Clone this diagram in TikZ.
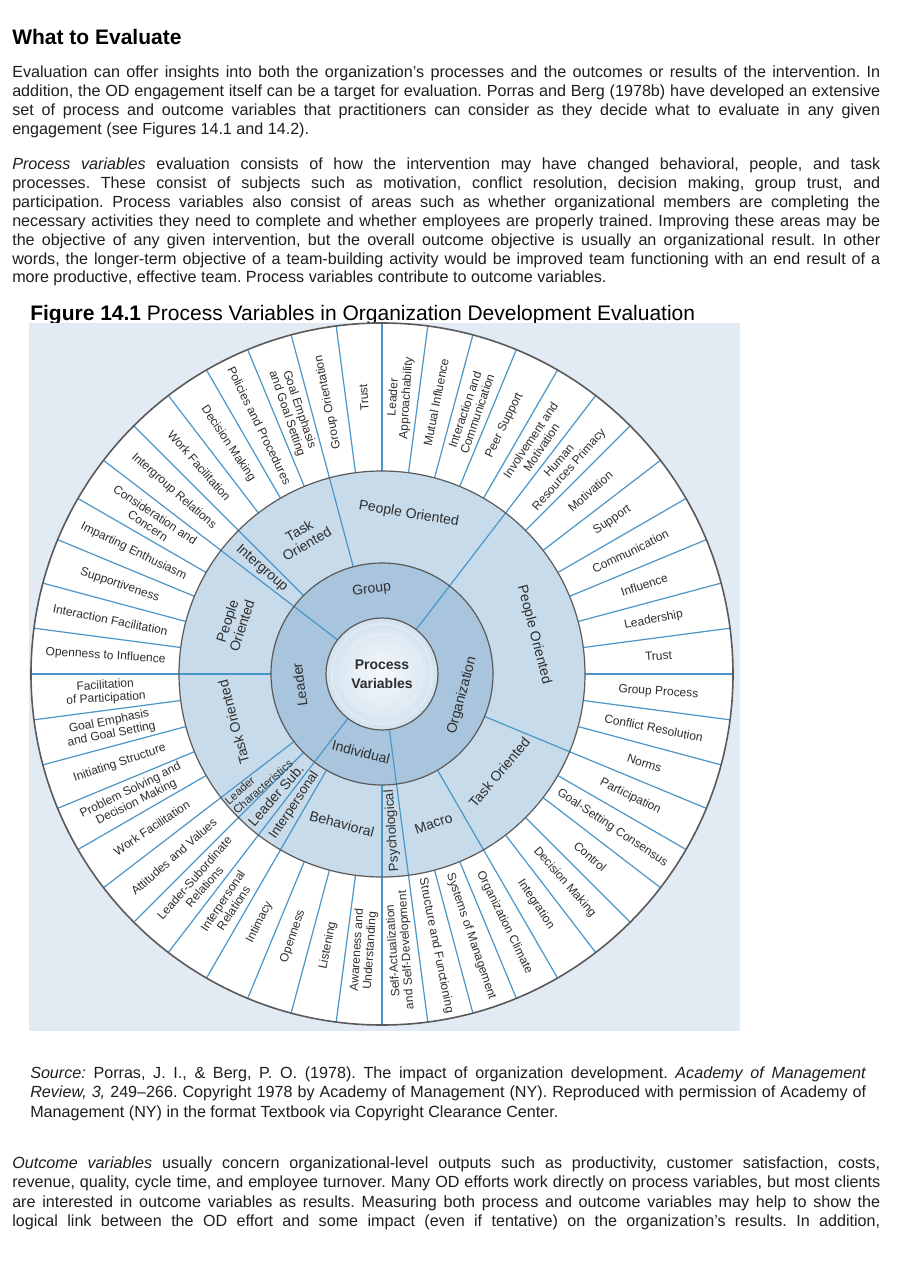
\documentclass[tikz,border=0pt]{standalone}
\usepackage{fontspec}
\setmainfont{Liberation Sans}
\frenchspacing
\definecolor{panel}{HTML}{E2EBF4}
\definecolor{ringA}{HTML}{C8DBEA}
\definecolor{ringB}{HTML}{A8C5DD}
\definecolor{divider}{HTML}{4A96C8}
\definecolor{outline}{HTML}{5A5A5A}
\definecolor{labeltext}{HTML}{2E2E2E}
\definecolor{bodytext}{HTML}{1E1E1E}
\newcommand\jfull[1]{\hbox to 651pt{#1}}
\newcommand\jsrc[1]{\hbox to 627pt{#1}}
\begin{document}
\begin{tikzpicture}[x=0.75pt,y=0.75pt,
  bodyline/.style={anchor=base west, inner sep=0pt, font=\fontsize{12.1}{14}\selectfont\frenchspacing, text=bodytext},
  outerlbl/.style={inner sep=0pt, align=center, font=\fontsize{9}{9.8}\selectfont, text=labeltext},
  ringlbl/.style={inner sep=0pt, align=center, font=\fontsize{10.5}{11.5}\selectfont, text=labeltext},
  divline/.style={draw=divider, line width=0.9pt},
  circline/.style={draw=outline, line width=0.9pt}]
\useasboundingbox (0,0) rectangle (914,-1266);
\fill[white] (0,0) rectangle (914,-1266);

% heading and paragraphs
\node[anchor=base west, inner sep=0pt, font=\bfseries\fontsize{15.75}{18}\selectfont, text=black] (head) at (12,-44.5) {What to Evaluate};

\node[bodyline] (p1a) at (12,-78) {\jfull{Evaluation can offer insights into both the organization’s processes and the outcomes or results of the intervention. In}};
\node[bodyline] (p1b) at (12,-97) {\jfull{addition, the OD engagement itself can be a target for evaluation. Porras and Berg (1978b) have developed an extensive}};
\node[bodyline] (p1c) at (12,-116) {\jfull{set of process and outcome variables that practitioners can consider as they decide what to evaluate in any given}};
\node[bodyline] (p1d) at (12,-135) {engagement (see Figures 14.1 and 14.2).};

\node[bodyline] (p2a) at (12,-170) {\jfull{\textit{Process variables} evaluation consists of how the intervention may have changed behavioral, people, and task}};
\node[bodyline] (p2b) at (12,-188.8) {\jfull{processes. These consist of subjects such as motivation, conflict resolution, decision making, group trust, and}};
\node[bodyline] (p2c) at (12,-207.6) {\jfull{participation. Process variables also consist of areas such as whether organizational members are completing the}};
\node[bodyline] (p2d) at (12,-226.4) {\jfull{necessary activities they need to complete and whether employees are properly trained. Improving these areas may be}};
\node[bodyline] (p2e) at (12,-245.2) {\jfull{the objective of any given intervention, but the overall outcome objective is usually an organizational result. In other}};
\node[bodyline] (p2f) at (12,-264) {\jfull{words, the longer-term objective of a team-building activity would be improved team functioning with an end result of a}};
\node[bodyline] (p2g) at (12,-282.8) {more productive, effective team. Process variables contribute to outcome variables.};

\node[anchor=base west, inner sep=0pt, font=\fontsize{15.75}{18}\selectfont, text=black] (title) at (30,-320) {\textbf{Figure 14.1} Process Variables in Organization Development Evaluation};

% figure panel
\fill[panel] (29,-323) rectangle (740,-1031);

\begin{scope}[shift={(382,-674)}]
  \fill[white] (0,0) circle (351);
  \fill[ringA] (0,0) circle (203);
  \fill[ringB] (0,0) circle (111);
  \shade[inner color=white!85!ringA, outer color=ringA!80!white] (0,0) circle (56);
  \foreach \rr in {16,28,40,50} \draw[white!60!ringA, line width=1.2pt, opacity=0.6] (0,0) circle (\rr);
  % dividers
  \foreach \a in {0,7.5,...,355} \draw[divline] (\a:203) -- (\a:351);
  \foreach \a in {105,135,180,217.5,225,240,270,300,337.5} \draw[divline] (\a:111) -- (\a:204);
  \foreach \a in {52.5,142.5,232.5,277.5} \draw[divline] (\a:56) -- (\a:204);
  % outlines
  \draw[circline] (0,0) circle (56);
  \draw[circline] (0,0) circle (111);
  \draw[circline] (0,0) circle (203);
  \draw[draw=outline, line width=1.2pt] (0,0) circle (351);

  % outer labels
  \foreach \txt [count=\k from 0] in {Trust,Leadership,Influence,Communication,Support,Motivation,{Human\\Resources Primacy},{Involvement and\\Motivation},Peer Support,{Interaction and\\Communication},Mutual Influence,{Leader\\Approachability},Trust,Group Orientation,{Goal Emphasis\\and Goal Setting},Policies and Procedures,Decision Making,Work Facilitation,Intergroup Relations,{Consideration and\\Concern},Imparting Enthusiasm,Supportiveness,Interaction Facilitation,Openness to Influence,{Facilitation\\of Participation},{Goal Emphasis\\and Goal Setting},Initiating Structure,{Problem Solving and\\Decision Making},Work Facilitation,Attitudes and Values,{Leader-Subordinate\\Relations},{Interpersonal\\Relations},Intimacy,Openness,Listening,{Awareness and\\Understanding},{Self-Actualization\\and Self-Development},Structure and Functioning,Systems of Management,Organization Climate,Integration,Decision Making,Control,Goal-Setting Consensus,Participation,Norms,Conflict Resolution,Group Process}{
    \pgfmathsetmacro\ang{3.75+7.5*\k}
    \pgfmathsetmacro\rot{((\ang>105)&&(\ang<277.5)) ? \ang-180 : \ang}
    \node[outerlbl, rotate=\rot] (o\k) at (\ang:277) {\txt};
  }

  % ring 3 labels
  \node[ringlbl, rotate=-9.5] (r3a) at (80.5:162) {People Oriented};
  \node[ringlbl, rotate=30] (r3b) at (120:158) {Task\\Oriented};
  \node[ringlbl, rotate=-41.25] (r3c) at (138.75:160) {Intergroup};
  \node[ringlbl, rotate=72] (r3d) at (161:156) {People\\Oriented};
  \node[ringlbl, rotate=105] (r3e) at (198:156) {Task Oriented};
  \node[ringlbl, align=left, font=\fontsize{8.5}{9.2}\selectfont, rotate=41.25] (r3f) at (221.25:164) {Leader\\Characteristics};
  \node[ringlbl, rotate=48.75] (r3g) at (228.75:161) {Leader Sub.};
  \node[ringlbl, font=\fontsize{10}{11}\selectfont, rotate=56.25] (r3h) at (236.25:158) {Interpersonal};
  \node[ringlbl, rotate=-15] (r3i) at (255:155) {Behavioral};
  \node[ringlbl, font=\fontsize{10}{11}\selectfont, rotate=93.75] (r3j) at (273.75:157) {Psychological};
  \node[ringlbl, rotate=18.75] (r3k) at (289:158) {Macro};
  \node[ringlbl, rotate=50] (r3l) at (320:153) {Task Oriented};
  \node[ringlbl, rotate=-75.5] (r3m) at (14.5:157) {People Oriented};

  % ring 2 labels
  \node[ringlbl, rotate=7] (r2g) at (97:85) {Group};
  \node[ringlbl, rotate=97.5] (r2l) at (187.5:83) {Leader};
  \node[ringlbl, rotate=-15] (r2i) at (255:81) {Individual};
  \node[ringlbl, rotate=75] (r2o) at (345:83) {Organization};

  % centre
  \node[inner sep=0pt, align=center, font=\bfseries\fontsize{10.5}{14.2}\selectfont, text=labeltext] (pv) at (0,0) {Process\\Variables};
\end{scope}

% source and last paragraph
\node[bodyline] (s1) at (30,-1078) {\jsrc{\textit{Source:} Porras, J. I., \& Berg, P. O. (1978). The impact of organization development. \textit{Academy of Management}}};
\node[bodyline] (s2) at (30,-1097.5) {\jsrc{\textit{Review, 3,} 249\textendash266. Copyright 1978 by Academy of Management (NY). Reproduced with permission of Academy of}};
\node[bodyline] (s3) at (30,-1117) {Management (NY) in the format Textbook via Copyright Clearance Center.};

\node[bodyline] (q1) at (12,-1168) {\jfull{\textit{Outcome variables} usually concern organizational-level outputs such as productivity, customer satisfaction, costs,}};
\node[bodyline] (q2) at (12,-1187) {\jfull{revenue, quality, cycle time, and employee turnover. Many OD efforts work directly on process variables, but most clients}};
\node[bodyline] (q3) at (12,-1207) {\jfull{are interested in outcome variables as results. Measuring both process and outcome variables may help to show the}};
\node[bodyline] (q4) at (12,-1226) {\jfull{logical link between the OD effort and some impact (even if tentative) on the organization’s results. In addition,}};
\end{tikzpicture}
\end{document}
